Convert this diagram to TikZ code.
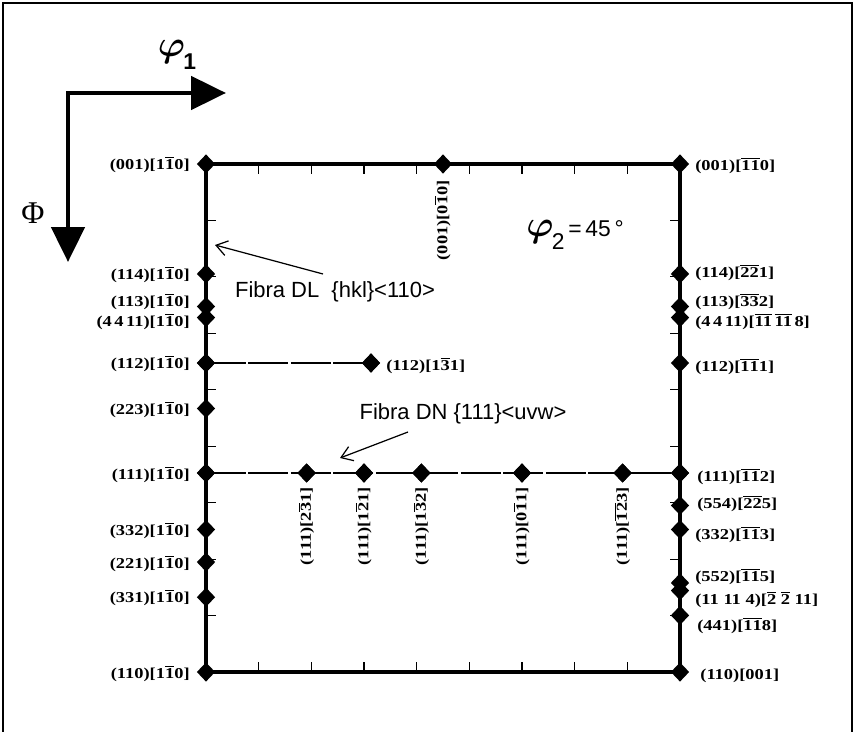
\documentclass[tikz,border=0pt]{standalone}
\usepackage{fontspec}
\setmainfont{Liberation Sans}
\newfontfamily\lblserif[FakeStretch=1.22]{Liberation Serif}
\newfontfamily\phiserif{Liberation Serif}
\usetikzlibrary{shapes.geometric,arrows.meta,calc}
\newcommand\ob[1]{\vbox{\hrule height .5pt\kern .6pt\hbox{#1}}}
\newcommand\bphi{{\fontsize{20}{20}\selectfont\boldmath$\varphi$}}
\begin{document}
\begin{tikzpicture}[x=0.02cm,y=-0.02cm,
 dia/.style={diamond, fill=black, draw=none, inner sep=0pt, minimum width=0.37cm, minimum height=0.39cm},
 lbl/.style={inner sep=0pt, font=\lblserif\bfseries\fontsize{8.6}{9}\selectfont},
 lblL/.style={lbl, anchor=east},
 lblR/.style={lbl, anchor=west},
 lblV/.style={lbl, anchor=east, rotate=90},
 boxline/.style={line width=2.6pt, line join=miter},
 tickmark/.style={line width=0.6pt},
 fiber/.style={line width=1.2pt, dash pattern=on 0.8cm off 0.05cm},
 fibtext/.style={font=\fontsize{12.5}{14}\selectfont, inner sep=0pt},
 thinarrow/.style={line width=0.7pt, -{Straight Barb[length=0.22cm,width=0.3cm]}},
 bigarrow/.style={line width=2.8pt, line join=miter, {Triangle[length=0.7cm,width=0.66cm]}-{Triangle[length=0.7cm,width=0.66cm]}}
]
\useasboundingbox (0,0) rectangle (855,732);
% outer frame
\draw[line width=1.2pt] (3,740) -- (3,3) -- (852,3) -- (852,740);

% axes arrows
\coordinate (corner) at (68,93);
\coordinate (hend) at (226,93);
\coordinate (vend) at (68,262);
\draw[bigarrow] (hend) -- (corner) -- (vend);
\node (phi1) at (177,55) {\bphi\kern-1pt\raisebox{-7pt}{\fontsize{13}{13}\selectfont\bfseries 1}};
\node (Phi) at (33,213) {\phiserif\fontsize{18}{18}\selectfont Φ};

% corner diamonds
\node[dia] (L001) at (206,164) {};
\node[dia] (R001) at (680,164) {};
\node[dia] (L110) at (206,672) {};
\node[dia] (R110) at (680,672) {};

% ticks
\foreach \k in {1,...,8} {
  \draw[tickmark] ({206+52.667*\k},164) -- ++(0,10);
  \draw[tickmark] ({206+52.667*\k},672) -- ++(0,-10);
  \draw[tickmark] (206,{164+56.444*\k}) -- ++(10,0);
  \draw[tickmark] (680,{164+56.444*\k}) -- ++(-10,0);
}

% box
\draw[boxline] (L001.center) -- (R001.center) -- (R110.center) -- (L110.center) -- cycle;

% left diamonds
\node[dia] (L114) at (206,273.9) {};
\node[dia] (L113) at (206,306.5) {};
\node[dia] (L4411) at (206,317.6) {};
\node[dia] (L112) at (206,363) {};
\node[dia] (L223) at (206,408.5) {};
\node[dia] (L111) at (206,473) {};
\node[dia] (L332) at (206,529.5) {};
\node[dia] (L221) at (206,562.1) {};
\node[dia] (L331) at (206,597.2) {};

% right diamonds
\node[dia] (R114) at (680,273.9) {};
\node[dia] (R113) at (680,306.5) {};
\node[dia] (R4411) at (680,317.6) {};
\node[dia] (R112) at (680,363) {};
\node[dia] (R111) at (680,473) {};
\node[dia] (R554) at (680,505.5) {};
\node[dia] (R332) at (680,529.5) {};
\node[dia] (R552) at (680,582.9) {};
\node[dia] (R11114) at (680,590.6) {};
\node[dia] (R441) at (680,615.4) {};

% top middle
\node[dia] (T010) at (443,164) {};

% fibers
\node[dia] (F112) at (371,363) {};
\node[dia] (G231) at (306.6,473) {};
\node[dia] (G121) at (364,473) {};
\node[dia] (G132) at (421.4,473) {};
\node[dia] (G011) at (522,473) {};
\node[dia] (G123) at (622.6,473) {};
\draw[fiber] (L112.center) -- (F112.center);
\draw[fiber] (L111.center) -- (R111.center);
\foreach \n in {F112,G231,G121,G132,G011,G123,L112,L111,R111} { \node[dia] at (\n) {}; }

% left labels
\node[lblL] (tL001) at (190,165) {(001)[1\ob{1}0]};
\node[lblL] (tL114) at (190,275) {(114)[1\ob{1}0]};
\node[lblL] (tL113) at (190,302) {(113)[1\ob{1}0]};
\node[lblL] (tL4411) at (190,322) {(4\,4\,11)[1\ob{1}0]};
\node[lblL] (tL112) at (190,364) {(112)[1\ob{1}0]};
\node[lblL] (tL223) at (190,410) {(223)[1\ob{1}0]};
\node[lblL] (tL111) at (190,475) {(111)[1\ob{1}0]};
\node[lblL] (tL332) at (190,531) {(332)[1\ob{1}0]};
\node[lblL] (tL221) at (190,564) {(221)[1\ob{1}0]};
\node[lblL] (tL331) at (190,598) {(331)[1\ob{1}0]};
\node[lblL] (tL110) at (190,674) {(110)[1\ob{1}0]};

% right labels
\node[lblR] (tR001) at (695,166) {(001)[\ob{1}\ob{1}0]};
\node[lblR] (tR114) at (695,273) {(114)[\ob{2}\ob{2}1]};
\node[lblR] (tR113) at (695,302) {(113)[\ob{3}\ob{3}2]};
\node[lblR] (tR4411) at (695,322) {(4\,4\,11)[\ob{11}\,\ob{11}\,8]};
\node[lblR] (tR112) at (695,367) {(112)[\ob{1}\ob{1}1]};
\node[lblR] (tR111) at (697,477) {(111)[\ob{1}\ob{1}2]};
\node[lblR] (tR554) at (697,504) {(554)[\ob{2}\ob{2}5]};
\node[lblR] (tR332) at (695,535) {(332)[\ob{1}\ob{1}3]};
\node[lblR] (tR552) at (695,577) {(552)[\ob{1}\ob{1}5]};
\node[lblR] (tR11114) at (695,600) {(11 11 4)[\ob{2} \ob{2} 11]};
\node[lblR] (tR441) at (697,626) {(441)[\ob{1}\ob{1}8]};
\node[lblR] (tR110) at (700,676) {(110)[001]};

% other labels
\node[lblR] (tF112) at (386,366) {(112)[1\ob{3}1]};
\node[lblV] (tT010) at (443,180) {(001)[0\ob{1}0]};
\node[lblV] (tG231) at (306.6,487) {(111)[2\ob{3}1]};
\node[lblV] (tG121) at (364,487) {(111)[1\ob{2}1]};
\node[lblV] (tG132) at (421.4,487) {(111)[1\ob{3}2]};
\node[lblV] (tG011) at (522,487) {(111)[0\ob{1}1]};
\node[lblV] (tG123) at (622.6,487) {(111)[\ob{1}\ob{2}3]};

% phi2
\node[anchor=west, inner sep=0pt] (phi2) at (526,235) {\bphi\kern-1pt\raisebox{-7pt}{\fontsize{13}{13}\selectfont 2}{\fontsize{13}{13}\selectfont\,=\,45\,°}};

% fiber texts and arrows
\node[fibtext] (DL) at (335,292) {Fibra DL \ \{hkl\}<110>};
\coordinate (DLs) at (323,274);
\coordinate (DLt) at (215,245);
\draw[thinarrow] (DLs) -- (DLt);
\node[fibtext] (DN) at (463,414) {Fibra DN \{111\}<uvw>};
\coordinate (DNs) at (408,432);
\coordinate (DNt) at (340,458);
\draw[thinarrow] (DNs) -- (DNt);
\end{tikzpicture}
\end{document}
